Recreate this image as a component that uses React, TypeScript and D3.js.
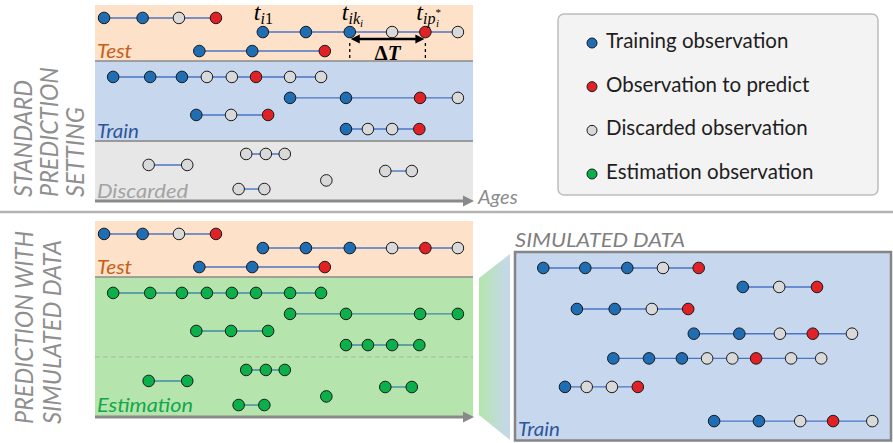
import * as d3 from 'd3';

// subjects in the test set (ages of visits, status of each visit, lane = subject row)
const TEST_LANES = [0.66, 1.38, 2.35];
const TEST_AGES = [
  [41.2, 46.3, 51.1, 56.0],
  [62.2, 67.9, 73.7, 79.3, 83.7, 88.0],
  [53.8, 60.8, 70.4],
];
const TEST_STATUS = ['TTDP', 'TTTDPD', 'TTP'];

const TRAIN_LANES = [3.67, 4.74, 5.61, 6.33];
const TRAIN_AGES = [
  [42.4, 47.3, 51.5, 54.8, 58.1, 61.3, 65.8, 69.9],
  [65.8, 73.2, 83.0, 88.0],
  [53.4, 58.0, 62.9],
  [73.2, 76.1, 79.3, 82.9],
];
const TRAIN_STATUS = ['TTTDDPDD', 'TTPD', 'TDP', 'TDDP'];

const DISCARDED_LANES = [7.6, 8.16, 9.39, 8.95, 8.47];
const DISCARDED_AGES = [
  [60.0, 62.6, 65.1],
  [47.1, 52.2],
  [59.0, 62.4],
  [70.6],
  [78.4, 81.9],
];

const SIM_LANES = [0.84, 1.84, 3.0, 4.3, 5.6, 7.1, 8.9];
const SIM_AGES = [
  [41.9, 47.9, 53.9, 59.0, 64.1],
  [70.4, 75.6, 81.0],
  [46.7, 52.1, 57.4, 62.6],
  [63.4, 69.9, 75.7, 80.4, 86.0],
  [51.9, 57.0, 61.7, 65.3, 68.9, 72.3, 77.3, 81.6],
  [45.0, 48.1, 51.7, 55.4],
  [66.3, 72.7, 78.6, 83.3, 88.9],
];
const SIM_STATUS = ['TTTDP', 'TDP', 'TTDP', 'TTDPD', 'TTTDDPDD', 'TDDP', 'TTDPD'];

const BAND_EDGES = [0, 2.86, 6.94, 10];

const LEGEND_LABELS = [
  'Training observation',
  'Observation to predict',
  'Discarded observation',
  'Estimation observation',
];
const LEGEND_KEYS = ['T', 'P', 'D', 'E'];

const FILL: Record<string, string> = {
  T: '#1f6db3',
  P: '#e02226',
  D: '#d9d9d9',
  E: '#0bb04b',
};

const SANS = 'Lato, "Open Sans", sans-serif';
const SERIF = '"Liberation Serif", "DejaVu Serif", serif';

const xLeft = d3.scaleLinear().domain([40, 90]).range([95, 473]);
const yTop = d3.scaleLinear().domain([0, 10]).range([5, 201]);
const yBottom = d3.scaleLinear().domain([0, 10]).range([221, 417]);
const xSim = d3.scaleLinear().domain([40, 90]).range([530, 880]);
const ySim = d3.scaleLinear().domain([0, 10]).range([252, 442]);
const yLegend = d3.scaleLinear().domain([0, 3]).range([48, 179]);

function Subject({
  ages,
  status,
  lane,
  x,
  y,
  green,
}: {
  ages: number[];
  status: string;
  lane: number;
  x: d3.ScaleLinear<number, number>;
  y: d3.ScaleLinear<number, number>;
  green?: boolean;
}) {
  const cy = y(lane);
  return (
    <g>
      {ages.length > 1 && (
        <line
          x1={x(ages[0])}
          x2={x(ages[ages.length - 1])}
          y1={cy}
          y2={cy}
          stroke={green ? '#3f8aa6' : '#4a76c6'}
          strokeWidth={1.4}
        />
      )}
      {ages.map((a, i) => (
        <circle
          key={i}
          cx={x(a)}
          cy={cy}
          r={5.8}
          fill={green ? FILL.E : FILL[status[i]]}
          stroke="#1a1a1a"
          strokeWidth={1}
        />
      ))}
    </g>
  );
}

function AgeAxis({ y }: { y: number }) {
  const x0 = xLeft.range()[0];
  const x1 = xLeft.range()[1];
  return (
    <g>
      <line x1={x0} x2={x1 - 7} y1={y} y2={y} stroke="#8a8a8a" strokeWidth={3} />
      <path d={`M${x1 + 1},${y} L${x1 - 10},${y - 5.5} L${x1 - 10},${y + 5.5} Z`} fill="#8a8a8a" />
    </g>
  );
}

function BandLabel({ x, y, fill, len, children }: { x: number; y: number; fill: string; len: number; children: string }) {
  return (
    <text x={x} y={y} fill={fill} textLength={len} lengthAdjust="spacingAndGlyphs">
      {children}
    </text>
  );
}

function LeftPanel({ y, simulated }: { y: d3.ScaleLinear<number, number>; simulated?: boolean }) {
  const x0 = xLeft.range()[0];
  const w = xLeft.range()[1] - x0;
  const bandFills = simulated ? ['#fde2c9', '#b5e5ad', '#b5e5ad'] : ['#fde2c9', '#c6d7ee', '#e7e7e7'];
  return (
    <g>
      {bandFills.map((f, i) => (
        <rect
          key={i}
          x={x0}
          y={y(BAND_EDGES[i])}
          width={w}
          height={y(BAND_EDGES[i + 1]) - y(BAND_EDGES[i])}
          fill={f}
        />
      ))}
      <line x1={x0} x2={x0 + w} y1={y(BAND_EDGES[1])} y2={y(BAND_EDGES[1])} stroke="#8a8a8a" strokeWidth={1.5} />
      {simulated ? (
        <line
          x1={x0}
          x2={x0 + w}
          y1={y(BAND_EDGES[2])}
          y2={y(BAND_EDGES[2])}
          stroke="#a8b8a6"
          strokeWidth={1.2}
          strokeDasharray="5,3"
        />
      ) : (
        <line x1={x0} x2={x0 + w} y1={y(BAND_EDGES[2])} y2={y(BAND_EDGES[2])} stroke="#9a9a9a" strokeWidth={2} />
      )}

      {TEST_AGES.map((ages, i) => (
        <Subject key={`t${i}`} ages={ages} status={TEST_STATUS[i]} lane={TEST_LANES[i]} x={xLeft} y={y} />
      ))}
      {TRAIN_AGES.map((ages, i) => (
        <Subject
          key={`r${i}`}
          ages={ages}
          status={TRAIN_STATUS[i]}
          lane={TRAIN_LANES[i]}
          x={xLeft}
          y={y}
          green={simulated}
        />
      ))}
      {DISCARDED_AGES.map((ages, i) => (
        <Subject
          key={`d${i}`}
          ages={ages}
          status={'D'.repeat(ages.length)}
          lane={DISCARDED_LANES[i]}
          x={xLeft}
          y={y}
          green={simulated}
        />
      ))}

      <g fontFamily={SANS} fontStyle="italic" fontSize={20}>
        <BandLabel x={x0 + 2} y={y(BAND_EDGES[1]) - 3} fill="#c5601a" len={35}>
          Test
        </BandLabel>
        {simulated ? (
          <BandLabel x={x0 + 2} y={y(BAND_EDGES[3]) - 5} fill="#12a84a" len={96}>
            Estimation
          </BandLabel>
        ) : (
          <>
            <BandLabel x={x0 + 2} y={y(BAND_EDGES[2]) - 3} fill="#2f5597" len={42}>
              Train
            </BandLabel>
            <BandLabel x={x0 + 2} y={y(BAND_EDGES[3]) - 3} fill="#a3a3a3" len={91}>
              Discarded
            </BandLabel>
          </>
        )}
      </g>
      <AgeAxis y={y(BAND_EDGES[3])} />
    </g>
  );
}

function Annotations() {
  const ages = TEST_AGES[1];
  const cy = yTop(TEST_LANES[1]);
  const xa = xLeft(ages[2]);
  const xb = xLeft(ages[4]);
  const ay = cy + 7;
  return (
    <g fontFamily={SERIF}>
      <text x={xLeft(ages[0]) - 9} y={cy - 12} fontSize={24} fontStyle="italic">
        t<tspan fontSize={16} dy={4}>i</tspan>
        <tspan fontSize={16} fontStyle="normal">1</tspan>
      </text>
      <text x={xa - 8} y={cy - 12} fontSize={24} fontStyle="italic">
        t<tspan fontSize={16} dy={4}>ik</tspan>
        <tspan fontSize={11} dy={3}>i</tspan>
      </text>
      <text x={xb - 9} y={cy - 12} fontSize={24} fontStyle="italic">
        t<tspan fontSize={16} dy={4}>ip</tspan>
        <tspan fontSize={11} dy={-8} fontStyle="normal">*</tspan>
        <tspan fontSize={11} dx={-5} dy={11}>i</tspan>
      </text>
      <line x1={xa + 8} x2={xb - 8} y1={ay} y2={ay} stroke="#000" strokeWidth={2.5} />
      <path d={`M${xa + 1},${ay} L${xa + 10},${ay - 4.5} L${xa + 10},${ay + 4.5} Z`} fill="#000" />
      <path d={`M${xb - 1},${ay} L${xb - 10},${ay - 4.5} L${xb - 10},${ay + 4.5} Z`} fill="#000" />
      <line x1={xa} x2={xa} y1={ay + 4} y2={yTop(BAND_EDGES[1]) - 3} stroke="#000" strokeWidth={1.3} strokeDasharray="3,3" />
      <line x1={xb} x2={xb} y1={ay + 4} y2={yTop(BAND_EDGES[1]) - 3} stroke="#000" strokeWidth={1.3} strokeDasharray="3,3" />
      <text x={(xa + xb) / 2} y={ay + 21} fontSize={21} fontWeight="bold" textAnchor="middle">
        Δ<tspan fontStyle="italic">T</tspan>
      </text>
    </g>
  );
}

function SimPanel() {
  const [x0, x1] = [515, 891];
  const [y0, y1] = ySim.range();
  return (
    <g>
      <defs>
        <linearGradient id="fade" x1="0" x2="1" y1="0" y2="0">
          <stop offset="0" stopColor="#b5e5ad" />
          <stop offset="1" stopColor="#c6d7ee" />
        </linearGradient>
      </defs>
      <path d={`M479,${yBottom(BAND_EDGES[1]) + 1} L510,${y0 + 2} L510,${y1 - 2} L479,${yBottom(9.9)} Z`} fill="url(#fade)" />
      <text
        x={x0}
        y={y0 - 5}
        fontFamily={SANS}
        fontStyle="italic"
        fontSize={19}
        fill="#7f7f7f"
        textLength={170}
        lengthAdjust="spacingAndGlyphs"
      >
        SIMULATED DATA
      </text>
      <rect x={x0} y={y0} width={x1 - x0} height={y1 - y0 - 1.5} fill="#c6d7ee" stroke="#858585" strokeWidth={2.5} />
      {SIM_AGES.map((ages, i) => (
        <Subject key={i} ages={ages} status={SIM_STATUS[i]} lane={SIM_LANES[i]} x={xSim} y={ySim} />
      ))}
      <text
        x={x0 + 3}
        y={y1 - 6}
        fontFamily={SANS}
        fontStyle="italic"
        fontSize={20}
        fill="#2f5597"
        textLength={42}
        lengthAdjust="spacingAndGlyphs"
      >
        Train
      </text>
    </g>
  );
}

function Legend() {
  return (
    <g fontFamily={SANS}>
      <rect x={558} y={14} width={320} height={181} rx={6} fill="#f3f3f3" stroke="#bdbdbd" strokeWidth={1.5} />
      {LEGEND_LABELS.map((label, i) => (
        <g key={label}>
          <circle cx={592} cy={yLegend(i) - 5} r={5} fill={FILL[LEGEND_KEYS[i]]} stroke="#1a1a1a" strokeWidth={1} />
          <text x={606} y={yLegend(i)} fontSize={20.5} fill="#1e1e1e">
            {label}
          </text>
        </g>
      ))}
    </g>
  );
}

function SideTitle({ lines, baseX, bottom, lengths }: { lines: string[]; baseX: number[]; bottom: number; lengths: number[] }) {
  return (
    <g fontFamily={SANS} fontStyle="italic" fontSize={25} fill="#8f8f8f">
      {lines.map((l, i) => (
        <text
          key={l}
          transform={`translate(${baseX[i]},${bottom}) rotate(-90)`}
          textLength={lengths[i]}
          lengthAdjust="spacingAndGlyphs"
        >
          {l}
        </text>
      ))}
    </g>
  );
}

export default function App() {
  return (
    <svg width={893} height={443} style={{ position: 'absolute', left: 0, top: 0, background: '#fff' }}>
      <SideTitle
        lines={['STANDARD', 'PREDICTION', 'SETTING']}
        baseX={[32, 58, 84]}
        bottom={197}
        lengths={[117, 130, 90]}
      />
      <SideTitle lines={['PREDICTION WITH', 'SIMULATED DATA']} baseX={[33, 61]} bottom={424} lengths={[193, 184]} />

      <LeftPanel y={yTop} />
      <Annotations />
      <text x={478} y={204} fontFamily={SANS} fontStyle="italic" fontSize={20} fill="#8c8c8c">
        Ages
      </text>
      <Legend />

      <line x1={0} x2={893} y1={212} y2={212} stroke="#b3b3b3" strokeWidth={2.5} />

      <LeftPanel y={yBottom} simulated />
      <SimPanel />
    </svg>
  );
}
